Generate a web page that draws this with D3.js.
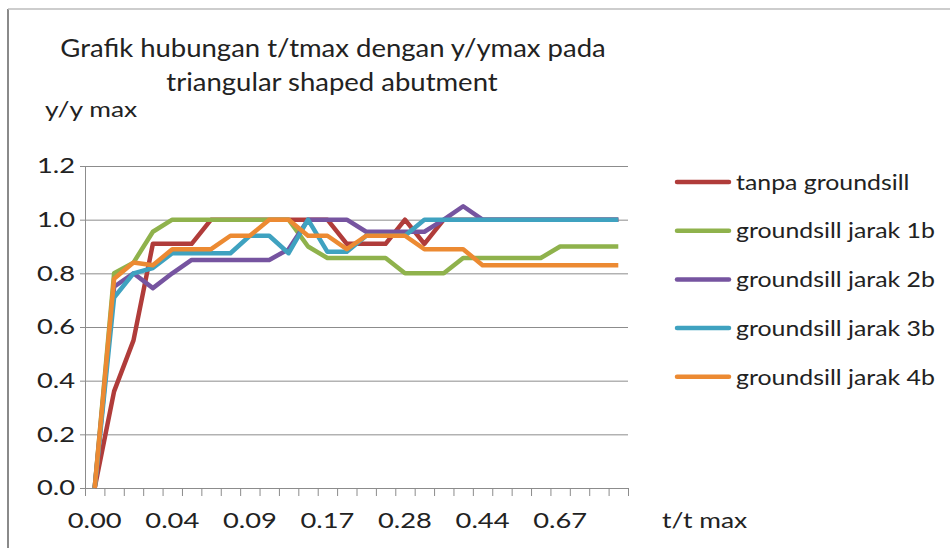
<!DOCTYPE html>
<html>
<head>
<meta charset="utf-8">
<script src="https://cdn.jsdelivr.net/npm/d3@7"></script>
<style>
  body { margin: 0; background: #fff; }
  text { font-family: Lato, "Open Sans", sans-serif; fill: #222; }
</style>
</head>
<body>
<div id="chart"></div>
<script>
// t/t max categories (only every 4th one is labelled on the axis)
const tLabels = ["0.00","0.01","0.02","0.03","0.04","0.05","0.06","0.08","0.09","0.11",
  "0.13","0.15","0.17","0.19","0.22","0.25","0.28","0.31","0.35","0.39",
  "0.44","0.50","0.56","0.61","0.67","0.78","0.89","1.00"];

const seriesNames = ["tanpa groundsill", "groundsill jarak 1b", "groundsill jarak 2b",
  "groundsill jarak 3b", "groundsill jarak 4b"];

// y/y max values
const tanpa = [0, 0.36, 0.55, 0.91, 0.91, 0.91, 1, 1, 1, 1, 1, 1, 1, 0.91,
  0.91, 0.91, 1, 0.91, 1, 1, 1, 1, 1, 1, 1, 1, 1, 1];
const jarak1b = [0, 0.80, 0.84, 0.955, 1, 1, 1, 1, 1, 1, 1, 0.9, 0.857, 0.857,
  0.857, 0.857, 0.8, 0.8, 0.8, 0.857, 0.857, 0.857, 0.857, 0.857, 0.9, 0.9, 0.9, 0.9];
const jarak2b = [0, 0.75, 0.80, 0.745, 0.80, 0.85, 0.85, 0.85, 0.85, 0.85, 0.89, 1, 1, 1,
  0.955, 0.955, 0.955, 0.955, 1, 1.05, 1, 1, 1, 1, 1, 1, 1, 1];
const jarak3b = [0, 0.71, 0.80, 0.82, 0.875, 0.875, 0.875, 0.875, 0.94, 0.94, 0.875, 1, 0.88, 0.88,
  0.94, 0.94, 0.94, 1, 1, 1, 1, 1, 1, 1, 1, 1, 1, 1];
const jarak4b = [0, 0.78, 0.84, 0.83, 0.89, 0.89, 0.89, 0.94, 0.94, 1, 1, 0.94, 0.94, 0.89,
  0.94, 0.94, 0.94, 0.89, 0.89, 0.89, 0.83, 0.83, 0.83, 0.83, 0.83, 0.83, 0.83, 0.83];

const yTicks = [0, 0.2, 0.4, 0.6, 0.8, 1.0, 1.2];
const colors = ["#b03c3a", "#8fb24c", "#7654a0", "#3fa2c0", "#ec8a32"];

const allSeries = [tanpa, jarak1b, jarak2b, jarak3b, jarak4b];

const width = 950, height = 548;
const margin = {left: 85, right: 322, top: 166, bottom: 60};
const innerW = width - margin.left - margin.right;
const innerH = height - margin.top - margin.bottom;

// the source picture is a little stretched sideways, so text gets widened too
function stretch(sel, sx) {
  sel.each(function() {
    const t = d3.select(this);
    const x0 = +t.attr("x") || 0, y0 = +t.attr("y") || 0;
    t.attr("x", 0).attr("y", 0)
      .attr("transform", `translate(${x0},${y0}) scale(${sx},1)`);
  });
}

const svg = d3.select("#chart").append("svg")
  .attr("width", width)
  .attr("height", height);

// outer frame (only left and top edges show)
svg.append("line").attr("x1", 8).attr("x2", 8).attr("y1", 9).attr("y2", height)
  .attr("stroke", "#8a8a8a").attr("stroke-width", 2);
svg.append("line").attr("x1", 8).attr("x2", width).attr("y1", 9).attr("y2", 9)
  .attr("stroke", "#bdbdbd").attr("stroke-width", 1.5);

const g = svg.append("g").attr("transform", `translate(${margin.left},${margin.top})`);

const x = d3.scaleBand().domain(d3.range(tLabels.length)).range([0, innerW]).padding(0);
const xEdge = d3.scaleLinear().domain([0, tLabels.length]).range([0, innerW]);
const y = d3.scaleLinear().domain([0, 1.2]).range([innerH, 0]);

// horizontal gridlines
g.append("g")
  .call(d3.axisLeft(y).tickValues(yTicks.slice(1)).tickSize(-innerW).tickFormat(""))
  .call(s => s.select(".domain").remove())
  .selectAll("line").attr("stroke", "#8c8c8c");

// y axis
const yAxis = g.append("g")
  .call(d3.axisLeft(y).tickValues(yTicks).tickFormat(d3.format(".1f")).tickSize(5).tickPadding(5));
yAxis.selectAll("line, path").attr("stroke", "#8c8c8c");
yAxis.selectAll("text").style("font-size", "21px").attr("fill", "#222").call(stretch, 1.3);

// x axis: tick marks between categories
const xTickAxis = g.append("g").attr("transform", `translate(0,${innerH})`)
  .call(d3.axisBottom(xEdge).tickValues(d3.range(tLabels.length + 1)).tickFormat("").tickSize(8));
xTickAxis.selectAll("line, path").attr("stroke", "#8c8c8c");

// x axis labels, every 4th category
const xAxis = g.append("g").attr("transform", `translate(0,${innerH})`)
  .call(d3.axisBottom(x).tickValues(d3.range(0, tLabels.length, 4))
    .tickFormat(i => tLabels[i]).tickSize(0).tickPadding(25));
xAxis.select(".domain").remove();
xAxis.selectAll("text").style("font-size", "21px").attr("fill", "#222").call(stretch, 1.3);

// series lines
const line = d3.line()
  .x((d, i) => x(i) + x.bandwidth() / 2)
  .y(d => y(d));

allSeries.forEach((s, k) => {
  g.append("path")
    .datum(s)
    .attr("fill", "none")
    .attr("stroke", colors[k])
    .attr("stroke-width", 4.5)
    .attr("stroke-linejoin", "round")
    .attr("d", line);
});

// titles
svg.append("text").attr("x", 333).attr("y", 57).attr("text-anchor", "middle")
  .style("font-size", "25px").text("Grafik hubungan t/tmax dengan y/ymax pada").call(stretch, 1.1);
svg.append("text").attr("x", 332).attr("y", 91).attr("text-anchor", "middle")
  .style("font-size", "25px").text("triangular shaped abutment").call(stretch, 1.1);
svg.append("text").attr("x", 45).attr("y", 117)
  .style("font-size", "22px").text("y/y max").call(stretch, 1.2);
svg.append("text").attr("x", 662).attr("y", 528)
  .style("font-size", "22px").text("t/t max").call(stretch, 1.2);

// legend
const legend = svg.append("g").attr("transform", "translate(677,182)");
seriesNames.forEach((name, k) => {
  const row = legend.append("g").attr("transform", `translate(0,${k * 48.7})`);
  row.append("line").attr("x1", 0).attr("x2", 52).attr("y1", 0).attr("y2", 0)
    .attr("stroke", colors[k]).attr("stroke-width", 4.5).attr("stroke-linecap", "round");
  row.append("text").attr("x", 59).attr("y", 0).attr("dy", "0.35em")
    .style("font-size", "22px").text(name).call(stretch, 1.13);
});
</script>
</body>
</html>
